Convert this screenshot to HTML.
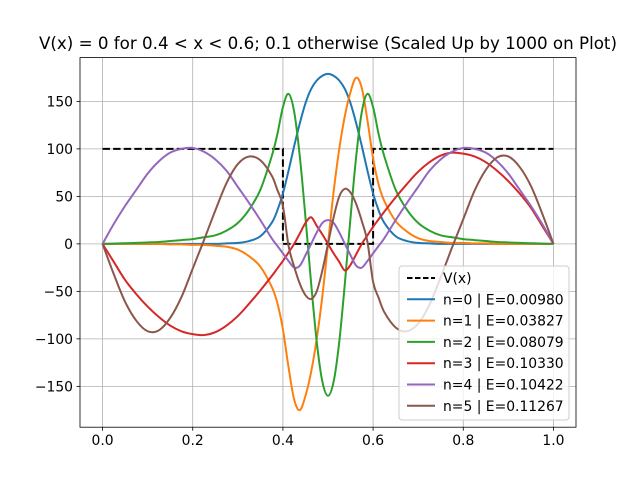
<!DOCTYPE html>
<html><head><meta charset="utf-8"><style>
body{margin:0;background:#fff;}
svg{display:block;font-family:"DejaVu Sans","Liberation Sans",sans-serif;}
</style></head><body>
<svg id="chart" width="640" height="480" viewBox="0 0 640 480" xmlns="http://www.w3.org/2000/svg">
<rect x="0" y="0" width="640" height="480" fill="#fff"/>
<text x="328" y="49" font-size="16.7" text-anchor="middle">V(x) = 0 for 0.4 &lt; x &lt; 0.6; 0.1 otherwise (Scaled Up by 1000 on Plot)</text>
<g id="grid"></g>
<g id="series"></g>
<rect x="80" y="57.6" width="496" height="369.6" fill="none" stroke="#000" stroke-width="0.8"/>
<g id="ticks"></g>
<g id="legend"></g>
</svg>
<script>
const xs=[0,.025,.05,.075,.1,.125,.15,.175,.2,.225,.25,.275,.3,.325,.35,.375,.3875,.4,.4125,.425,.4375,.45,.4625,.475,.4875,.5,.5125,.525,.5375,.55,.5625,.575,.5875,.6,.6125,.625,.65,.675,.7,.725,.75,.775,.8,.825,.85,.875,.9,.925,.95,.975,1];
const psi0=[0,0,0,0,0,0,0,0,0,0,0,0.5,1,3,8,22,35,53,77,103,127,148,163,172,177,179,177,172,163,148,127,103,77,53,35,22,8,3,1,0.5,0,0,0,0,0,0,0,0,0,0,0];
const psi1=[0,0,0,0,0,0,-0.5,-0.5,-1,-1,-2,-3,-6,-13,-24,-45,-62,-90,-130,-164,-175,-160,-135,-100,-55,0,55,100,135,160,175,164,130,90,62,45,24,13,6,3,2,1,1,0.5,0.5,0,0,0,0,0,0];
const psi2=[0,0.3,0.7,1,1.5,2,3,4,5,7,9,14,22,36,57,92,115,144,158,139,92,28,-41,-103,-145,-160,-145,-103,-41,28,92,139,158,144,115,92,57,36,22,14,9,7,5,4,3,2,1.5,1,0.7,0.3,0];
const psi3=[0,-19,-38,-53,-66,-77,-86,-92,-95,-96,-93,-86,-76,-63,-49,-34,-26,-18,-9,0,11,22,28,19,10,0,-10,-19,-28,-22,-11,0,9,18,26,34,49,63,76,86,93,96,95,92,86,77,66,53,38,19,0];
const psi4=[0,21,40,57,74,87,96,100,101,97,89,77,60,43,25,6,-2,-10,-18,-25,-23,-12,0,12,22,25,22,12,0,-12,-23,-25,-18,-10,-2,6,25,43,60,77,89,97,101,100,96,87,74,57,40,21,0];
const psi5=[0,-32,-61,-81,-92,-91,-78,-56,-26,4,35,64,84,92,88,72,57,40,-2,-24,-42,-54,-58,-50,-28,0,28,50,58,54,42,24,2,-40,-57,-72,-88,-92,-84,-64,-35,-4,26,56,78,91,92,81,61,32,0];
const potX=[0,0.4,0.4,0.6,0.6,1];
const potY=[100,100,0,0,100,100];
const seriesLabels=["n=0 | E=0.00980","n=1 | E=0.03827","n=2 | E=0.08079","n=3 | E=0.10330","n=4 | E=0.10422","n=5 | E=0.11267"];
const xTicks=[0,0.2,0.4,0.6,0.8,1.0];
const xTickLabels=["0.0","0.2","0.4","0.6","0.8","1.0"];
const yTicks=[-150,-100,-50,0,50,100,150];
const yTickLabels=["−150","−100","−50","0","50","100","150"];

const colors=["#1f77b4","#ff7f0e","#2ca02c","#d62728","#9467bd","#8c564b"];
const L=80,R=576,T=57.6,B=427.2,xmin=-0.05,xmax=1.05,ymin=-193,ymax=196.1;
const sx=v=>L+(v-xmin)/(xmax-xmin)*(R-L);
const sy=v=>B-(v-ymin)/(ymax-ymin)*(B-T);
const NS="http://www.w3.org/2000/svg";
function mk(tag,attrs,parent){const e=document.createElementNS(NS,tag);for(const k in attrs)e.setAttribute(k,attrs[k]);parent.appendChild(e);return e;}
const grid=document.getElementById('grid'),ticks=document.getElementById('ticks'),ser=document.getElementById('series'),leg=document.getElementById('legend');
xTicks.forEach((t,i)=>{const x=sx(t);
 const g=mk('line',{x1:x,x2:x,y1:T,y2:B,stroke:'#b0b0b0','stroke-width':0.8},grid);
 
 
 const tk=mk('line',{x1:x,x2:x,y1:B,y2:B+3.5,stroke:'#000','stroke-width':0.8},ticks);
 
 
 const tl=mk('text',{x:x,y:B+18,'font-size':13.9,'text-anchor':'middle'},ticks);tl.textContent=xTickLabels[i];
 
 
});
yTicks.forEach((t,i)=>{const y=sy(t);
 const g=mk('line',{x1:L,x2:R,y1:y,y2:y,stroke:'#b0b0b0','stroke-width':0.8},grid);
 
 
 const tk=mk('line',{x1:L-3.5,x2:L,y1:y,y2:y,stroke:'#000','stroke-width':0.8},ticks);
 
 
 const tl=mk('text',{x:L-7,y:y+5,'font-size':13.9,'text-anchor':'end'},ticks);tl.textContent=yTickLabels[i];
 
 
});
function smoothPath(X,Y){const p=X.map((x,i)=>[sx(x),sy(Y[i])]);let d='M'+p[0][0]+','+p[0][1];
 for(let i=0;i<p.length-1;i++){const p0=p[Math.max(0,i-1)],p1=p[i],p2=p[i+1],p3=p[Math.min(p.length-1,i+2)];
  const c1=[p1[0]+(p2[0]-p0[0])/6,p1[1]+(p2[1]-p0[1])/6],c2=[p2[0]-(p3[0]-p1[0])/6,p2[1]-(p3[1]-p1[1])/6];
  d+=' C'+c1[0]+','+c1[1]+' '+c2[0]+','+c2[1]+' '+p2[0]+','+p2[1];}
 return d;}
const pot=mk('path',{d:'M'+potX.map((x,i)=>sx(x)+','+sy(potY[i])).join(' L'),fill:'none',stroke:'#000','stroke-width':2,'stroke-dasharray':'7.4,3.2'},ser);


[psi0,psi1,psi2,psi3,psi4,psi5].forEach((Y,i)=>{
 const p=mk('path',{d:smoothPath(xs,Y),fill:'none',stroke:colors[i],'stroke-width':2,'stroke-linejoin':'round'},ser);
 
 
});
const lb=mk('rect',{x:399,y:266,width:170,height:154,rx:3,fill:'#fff','fill-opacity':0.8,stroke:'#ccc','stroke-width':1},leg);


const entries=[["V(x)","#000",true]].concat(seriesLabels.map((s,i)=>[s,colors[i],false]));
entries.forEach((e,i)=>{const y=278+i*21.3;
 const ln=mk('line',{x1:407,x2:435,y1:y,y2:y,stroke:e[1],'stroke-width':2},leg);
 if(e[2])ln.setAttribute('stroke-dasharray','5.5,2.5');
 
 
 const t=mk('text',{x:443,y:y+5,'font-size':13.9},leg);t.textContent=e[0];
 
 
});
</script>
</body></html>
